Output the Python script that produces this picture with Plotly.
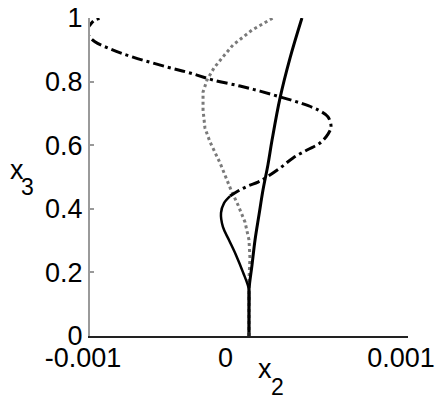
import plotly.graph_objects as go

FONT = "Liberation Sans, Arial, Helvetica, sans-serif"
SCALE = 1e-3  # x2 values below are written in units of 1e-3

# straight solid branch
solid_x = [0, 0, 0, 0.019, 0.038, 0.063, 0.088, 0.119, 0.145, 0.195, 0.258, 0.333]
solid_y = [0, 0.082, 0.145, 0.223, 0.302, 0.381, 0.459, 0.538, 0.616, 0.748, 0.874, 1.0]

# grey dotted branch
dot_x = [0, 0, 0, 0.006, 0, -0.025, -0.069, -0.113, -0.182, -0.245, -0.277,
         -0.289, -0.289, -0.264, -0.220, -0.170, -0.101, 0.019, 0.151]
dot_y = [0, 0.113, 0.176, 0.245, 0.302, 0.358, 0.412, 0.459, 0.544, 0.610, 0.654,
         0.711, 0.767, 0.805, 0.843, 0.874, 0.915, 0.962, 1.0]

# lower (solid-looking) part of the oscillating branch
bulge_x = [0, 0, 0, -0.038, -0.082, -0.126, -0.164, -0.176, -0.157, -0.119]
bulge_y = [0, 0.082, 0.145, 0.201, 0.255, 0.302, 0.343, 0.387, 0.418, 0.440]

# upper dash-dot part of the oscillating branch
dd_x = [-0.119, -0.069, -0.006, 0.057, 0.113, 0.195, 0.277, 0.365, 0.447, 0.497,
        0.516, 0.497, 0.434, 0.321, 0.195, 0.069, -0.057, -0.226, -0.371, -0.516,
        -0.730, -0.874, -0.969, -1.006, -1.019, -1.0, -0.969, -0.918]
dd_y = [0.440, 0.456, 0.472, 0.484, 0.500, 0.528, 0.560, 0.585, 0.607, 0.635,
        0.657, 0.689, 0.711, 0.733, 0.752, 0.770, 0.786, 0.805, 0.827, 0.846,
        0.877, 0.903, 0.925, 0.943, 0.962, 0.978, 0.994, 1.0]

x_ticks = [-0.001, 0, 0.001]
x_ticktext = ["-0.001", "", "0.001"]
y_ticks = [0, 0.2, 0.4, 0.6, 0.8, 1]
y_ticktext = ["0", "0.2", "0.4", "0.6", "0.8", "1"]


def sx(vals):
    return [v * SCALE for v in vals]


fig = go.Figure()
fig.add_trace(go.Scatter(x=sx(dot_x), y=dot_y, mode="lines",
                         line=dict(color="#7a7a7a", width=3, dash="3px,3px")))
fig.add_trace(go.Scatter(x=sx(bulge_x), y=bulge_y, mode="lines",
                         line=dict(color="black", width=2.5, shape="spline")))
fig.add_trace(go.Scatter(x=sx(dd_x), y=dd_y, mode="lines",
                         line=dict(color="black", width=3, dash="11px,4px,3px,4px",
                                   shape="spline")))
fig.add_trace(go.Scatter(x=sx(solid_x), y=solid_y, mode="lines",
                         line=dict(color="black", width=3, shape="spline")))

fig.update_layout(
    width=439, height=402,
    margin=dict(l=90, r=31, t=18, b=66, autoexpand=False),
    paper_bgcolor="white", plot_bgcolor="white",
    showlegend=False,
    font=dict(family=FONT, size=27, color="black"),
    xaxis=dict(
        range=[-0.001, 0.0010001], tickvals=x_ticks, ticktext=x_ticktext,
        ticks="inside", ticklen=4, tickcolor="#222", tickwidth=1.5,
        showline=True, linecolor="#222", linewidth=1.5,
        showgrid=False, zeroline=False, ticklabeloverflow="allow",
        automargin=False, ticklabelshift=-7, ticklabelstandoff=-3,
    ),
    yaxis=dict(
        range=[0, 1], tickvals=y_ticks, ticktext=y_ticktext,
        ticks="inside", ticklen=4, tickcolor="#999", tickwidth=1.5,
        showline=True, linecolor="#9a9a9a", linewidth=2,
        showgrid=False, zeroline=False, ticklabeloverflow="allow",
        automargin=False,
    ),
    annotations=[
        dict(text="0", x=0, y=0, xref="x", yref="paper", xshift=-23, yshift=-5,
             xanchor="center", yanchor="top", showarrow=False,
             font=dict(size=27)),
        dict(text="x", x=-0.23, y=0.522, xref="paper", yref="paper",
             xanchor="center", yanchor="middle", showarrow=False,
             font=dict(size=27)),
        dict(text="3", x=-0.195, y=0.469, xref="paper", yref="paper",
             xanchor="center", yanchor="middle", showarrow=False,
             font=dict(size=23)),
        dict(text="x", x=0.55, y=-0.105, xref="paper", yref="paper",
             xanchor="center", yanchor="middle", showarrow=False,
             font=dict(size=27)),
        dict(text="2", x=0.591, y=-0.16, xref="paper", yref="paper",
             xanchor="center", yanchor="middle", showarrow=False,
             font=dict(size=23)),
    ],
)

# drop the browser's default 8px body margin so the figure fills the window
fig.write_html("out.html", config={"displayModeBar": False},
               post_script="document.body.style.margin = '0';")
